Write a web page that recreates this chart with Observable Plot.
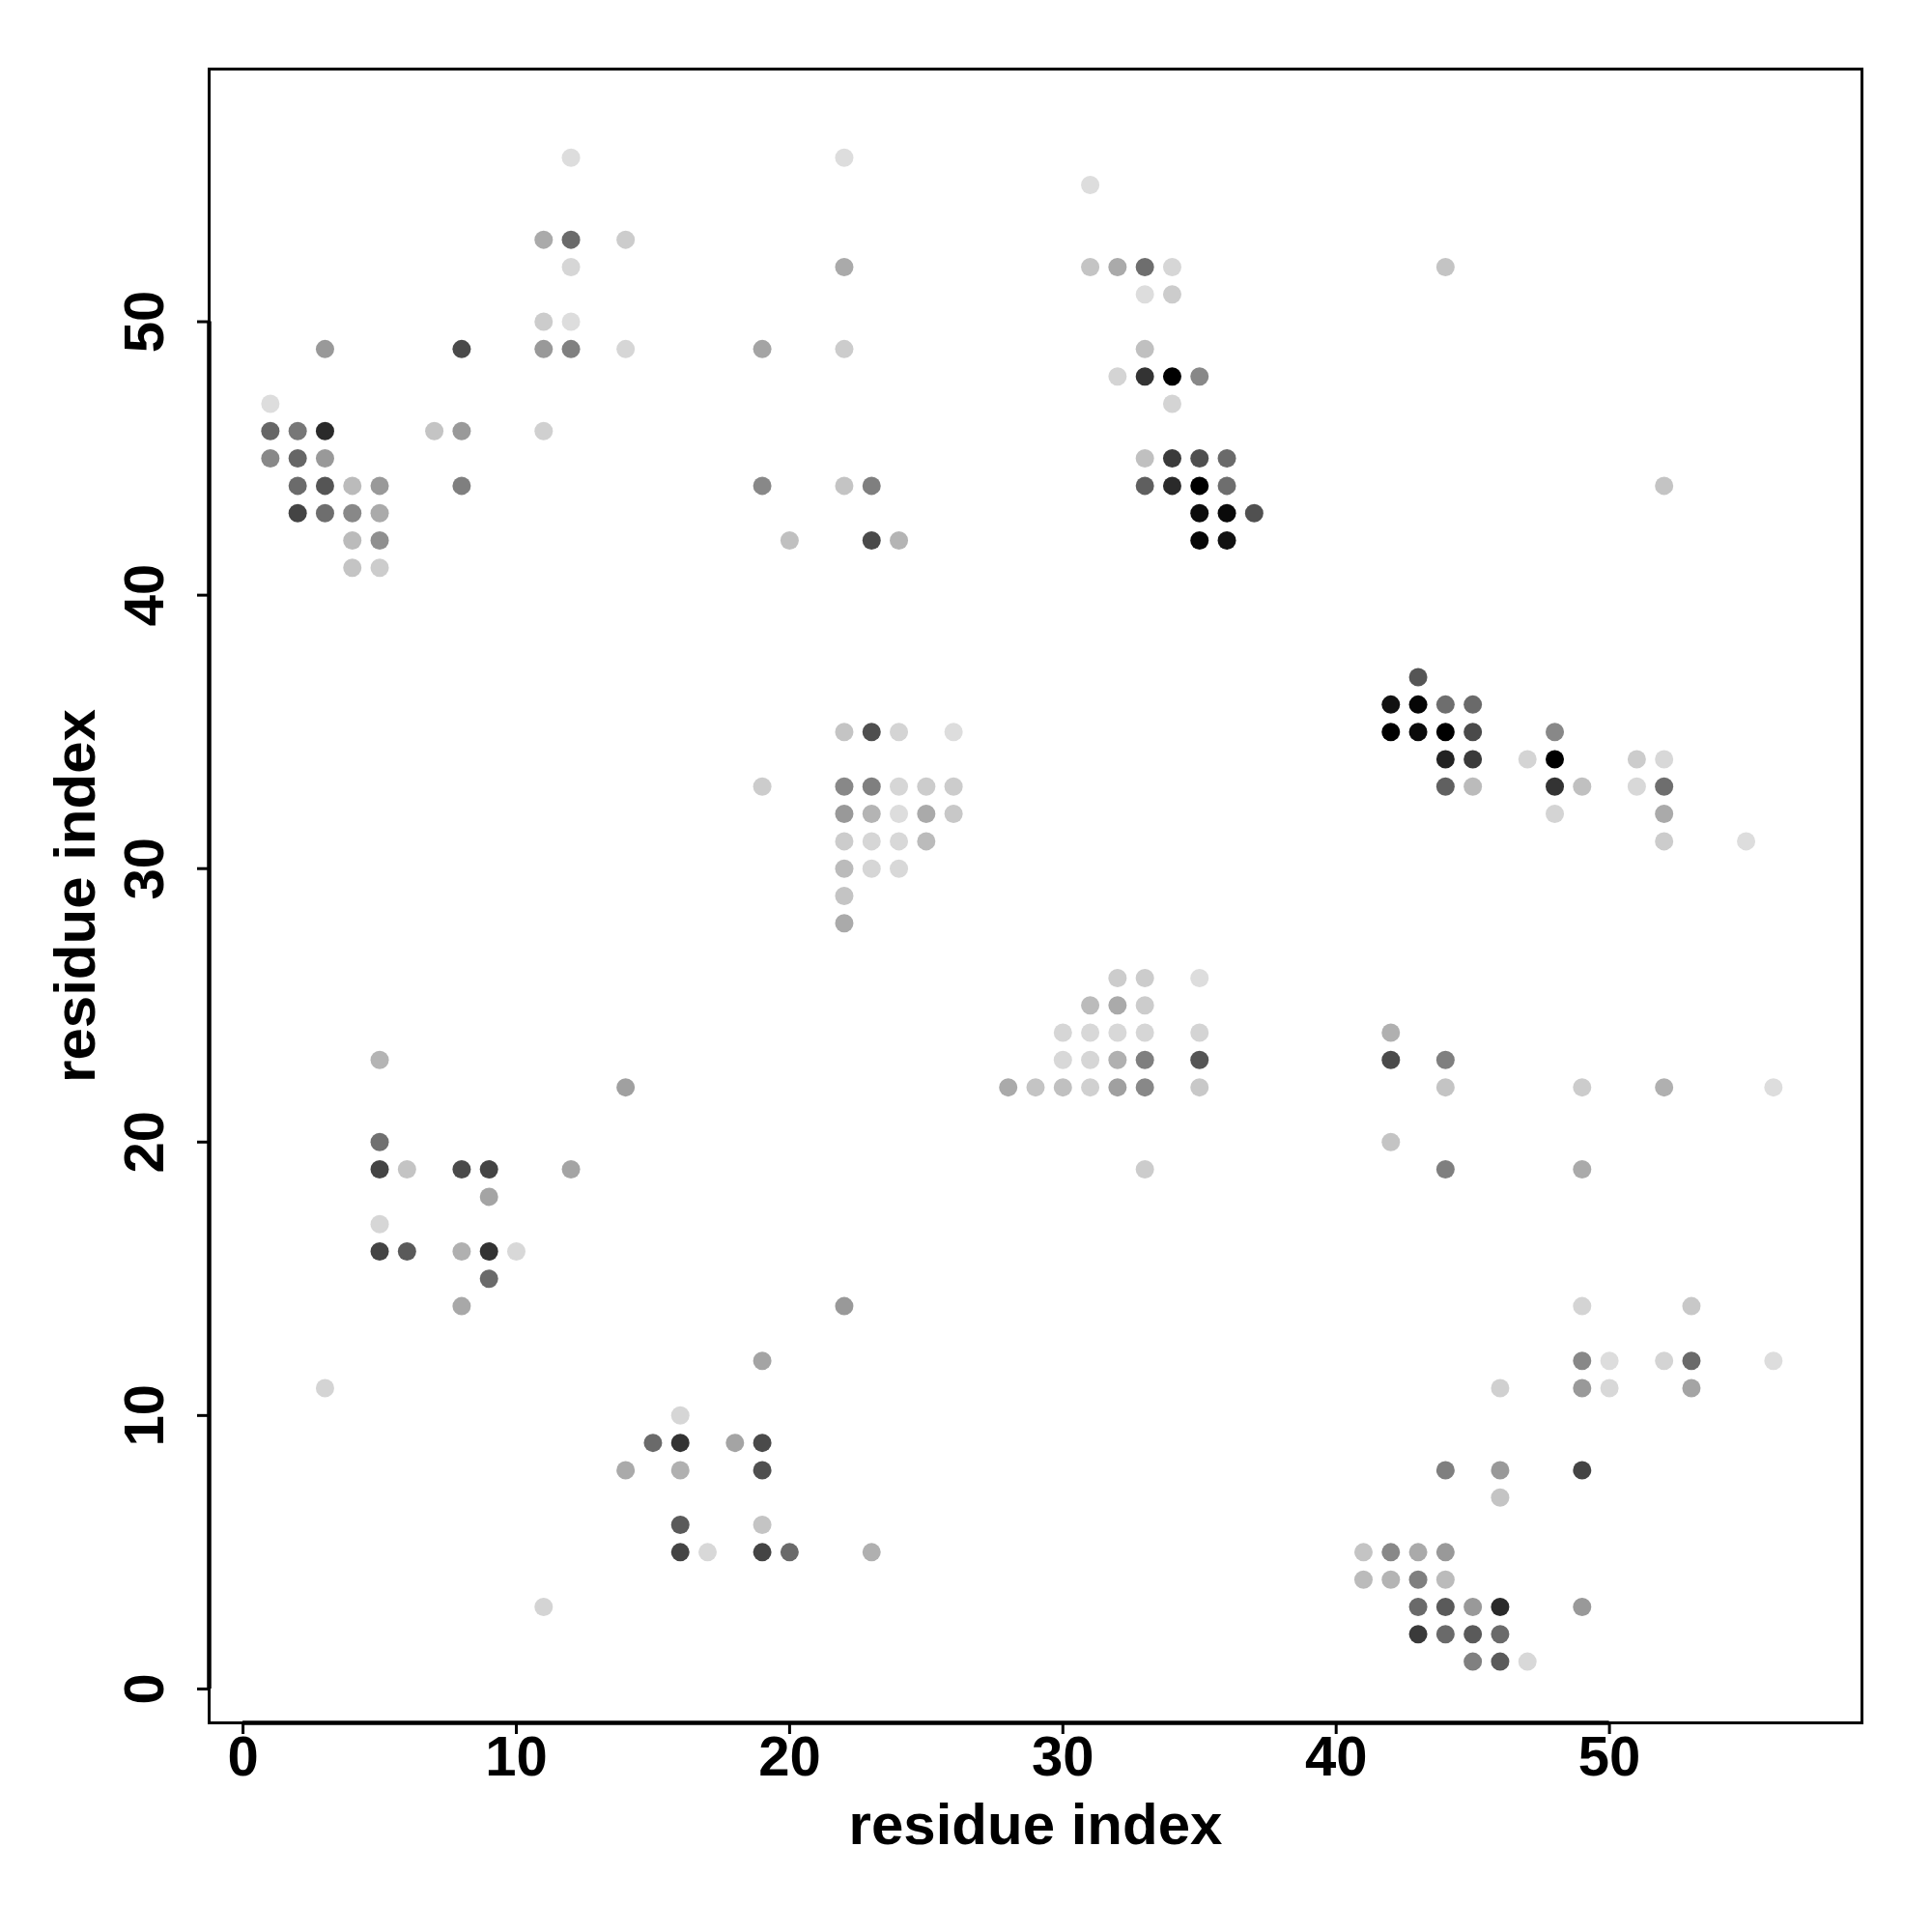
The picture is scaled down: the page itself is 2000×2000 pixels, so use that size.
<!DOCTYPE html>
<html><head><meta charset="utf-8">
<script src="https://cdn.jsdelivr.net/npm/d3@7"></script>
<script src="https://cdn.jsdelivr.net/npm/@observablehq/plot@0.6"></script>
<style>body{margin:0;background:#fff}</style>
</head><body><div id="chart"></div>
<script>
// residue i (x), residue j (y), grey level of the dot (0 = black, 255 = white)
const residueI = [
  1,1,2,3,1,2,3,2,3,4,5,2,3,4,5,4,5,4,5,3,7,8,8,8,11,11,12,14,11,12,12,11,12,14,12,19,19,20,
  22,22,22,22,23,23,24,31,31,32,33,34,33,34,33,32,33,34,35,34,33,34,35,36,33,34,35,36,35,36,37,35,36,44,52,
  19,5,14,5,5,6,8,9,12,
  22,23,24,26,22,23,24,25,26,22,23,24,25,26,22,23,24,25,22,23,24,22,22,
  32,33,35,31,32,33,30,31,32,33,35,30,31,32,33,35,28,29,30,31,32,33,35,33,
  43,42,43,44,45,42,43,44,45,48,44,45,47,48,51,52,44,45,48,49,51,52,48,52,52,55,
  42,42,44,44,49,52,56,42,44,49,
  9,5,5,6,8,9,10,9,8,3,19,16,15,16,18,19,14,16,19,16,19,16,17,19,20,11,22,23,
  49,53,49,50,52,53,56,46,49,50,53,44,46,49,46,41,42,43,44,41,42,43,44,43,44,45,46,49,43,44,45,46,45,46,47
];
const residueJ = [
  47,46,46,46,45,45,45,44,44,44,44,43,43,43,43,42,42,41,41,49,46,46,49,44,46,49,49,49,50,50,52,53,53,53,56,49,44,42,
  56,52,49,44,44,42,42,55,52,52,52,52,51,51,49,48,48,48,48,47,45,45,45,45,44,44,44,44,43,43,43,42,42,52,44,
  33,23,22,20,19,19,19,19,19,
  35,35,35,35,33,33,33,33,33,32,32,32,32,32,31,31,31,31,30,30,30,29,28,
  26,26,26,25,25,25,24,24,24,24,24,23,23,23,23,23,22,22,22,22,22,22,22,19,
  37,36,36,36,36,35,35,35,35,35,34,34,34,34,34,34,33,33,33,33,33,33,32,32,31,31,
  24,23,23,22,22,22,22,20,19,19,
  18,17,16,16,16,16,16,15,14,11,12,10,9,9,9,9,8,8,8,6,6,5,5,5,5,3,14,5,
  14,14,12,12,12,12,12,11,11,11,11,8,8,8,7,5,5,5,5,4,4,4,4,3,3,3,3,3,2,2,2,2,1,1,1
];
const shade = [
  221,102,119,42,136,102,153,107,85,187,153,68,110,136,170,187,143,196,204,153,196,153,74,127,208,153,128,214,204,221,214,170,106,204,221,164,136,192,
  221,170,204,196,127,74,180,221,196,170,110,214,221,204,192,212,51,0,136,212,192,58,79,106,95,42,0,110,12,10,80,5,17,196,196,
  204,180,160,112,68,196,74,68,164,
  196,79,212,221,136,127,214,204,204,153,180,221,170,200,204,214,216,187,187,214,216,196,170,
  204,204,221,187,170,204,214,216,216,214,212,216,214,176,127,85,170,196,192,208,160,136,200,204,
  85,17,5,110,106,0,10,0,74,136,34,58,212,0,204,216,96,187,51,192,216,110,212,170,204,221,
  176,74,127,196,204,176,221,196,127,170,
  164,214,68,90,176,51,216,106,168,212,164,214,106,51,164,74,170,176,79,90,196,68,216,68,106,212,153,176,
  212,200,136,221,212,106,221,208,153,216,164,127,153,68,196,196,136,170,153,187,180,127,187,106,90,153,42,153,58,106,90,106,128,90,216
];
const tickValues = [0, 10, 20, 30, 40, 50];
const axisTitle = "residue index";

const data = residueI.map((x, k) => ({x, y: residueJ[k], g: shade[k]}));
const dom = [-1.24, 59.24];
const font = "'Liberation Sans', Arial, Helvetica, sans-serif";
const txt = {fontWeight: "bold", fill: "#000", textAnchor: "middle", lineAnchor: "middle"};

const chart = Plot.plot({
  width: 2000, height: 2000,
  marginLeft: 216, marginRight: 73, marginTop: 71, marginBottom: 217,
  style: {fontFamily: font, fontWeight: "bold", background: "#fff", color: "#000"},
  x: {domain: dom},
  y: {domain: dom},
  color: {type: "linear", domain: [0, 255], range: ["#000000", "#ffffff"], interpolate: "rgb"},
  marks: [
    Plot.dot(data, {x: "x", y: "y", fill: "g", r: 9.5}),
    Plot.frame({stroke: "#000", strokeWidth: 3}),
    Plot.axisX(tickValues, {tickSize: 12, tickFormat: () => "", label: null, strokeWidth: 3}),
    Plot.axisY(tickValues, {tickSize: 12, tickFormat: () => "", label: null, strokeWidth: 3}),
    Plot.ruleY([dom[0]], {x1: 0, x2: 50, strokeWidth: 4.5}),
    Plot.ruleX([dom[0]], {y1: 0, y2: 50, strokeWidth: 4.5}),
    Plot.text(tickValues, {x: d => d, frameAnchor: "bottom", dy: 36, fontSize: 58, ...txt}),
    Plot.text(tickValues, {y: d => d, frameAnchor: "left", dx: -66, rotate: -90, fontSize: 58, ...txt}),
    Plot.text([axisTitle], {frameAnchor: "bottom", dy: 106, fontSize: 60, ...txt}),
    Plot.text([axisTitle], {frameAnchor: "left", dx: -138, rotate: -90, fontSize: 60, ...txt})
  ]
});
document.getElementById("chart").appendChild(chart);
</script>
</body></html>
